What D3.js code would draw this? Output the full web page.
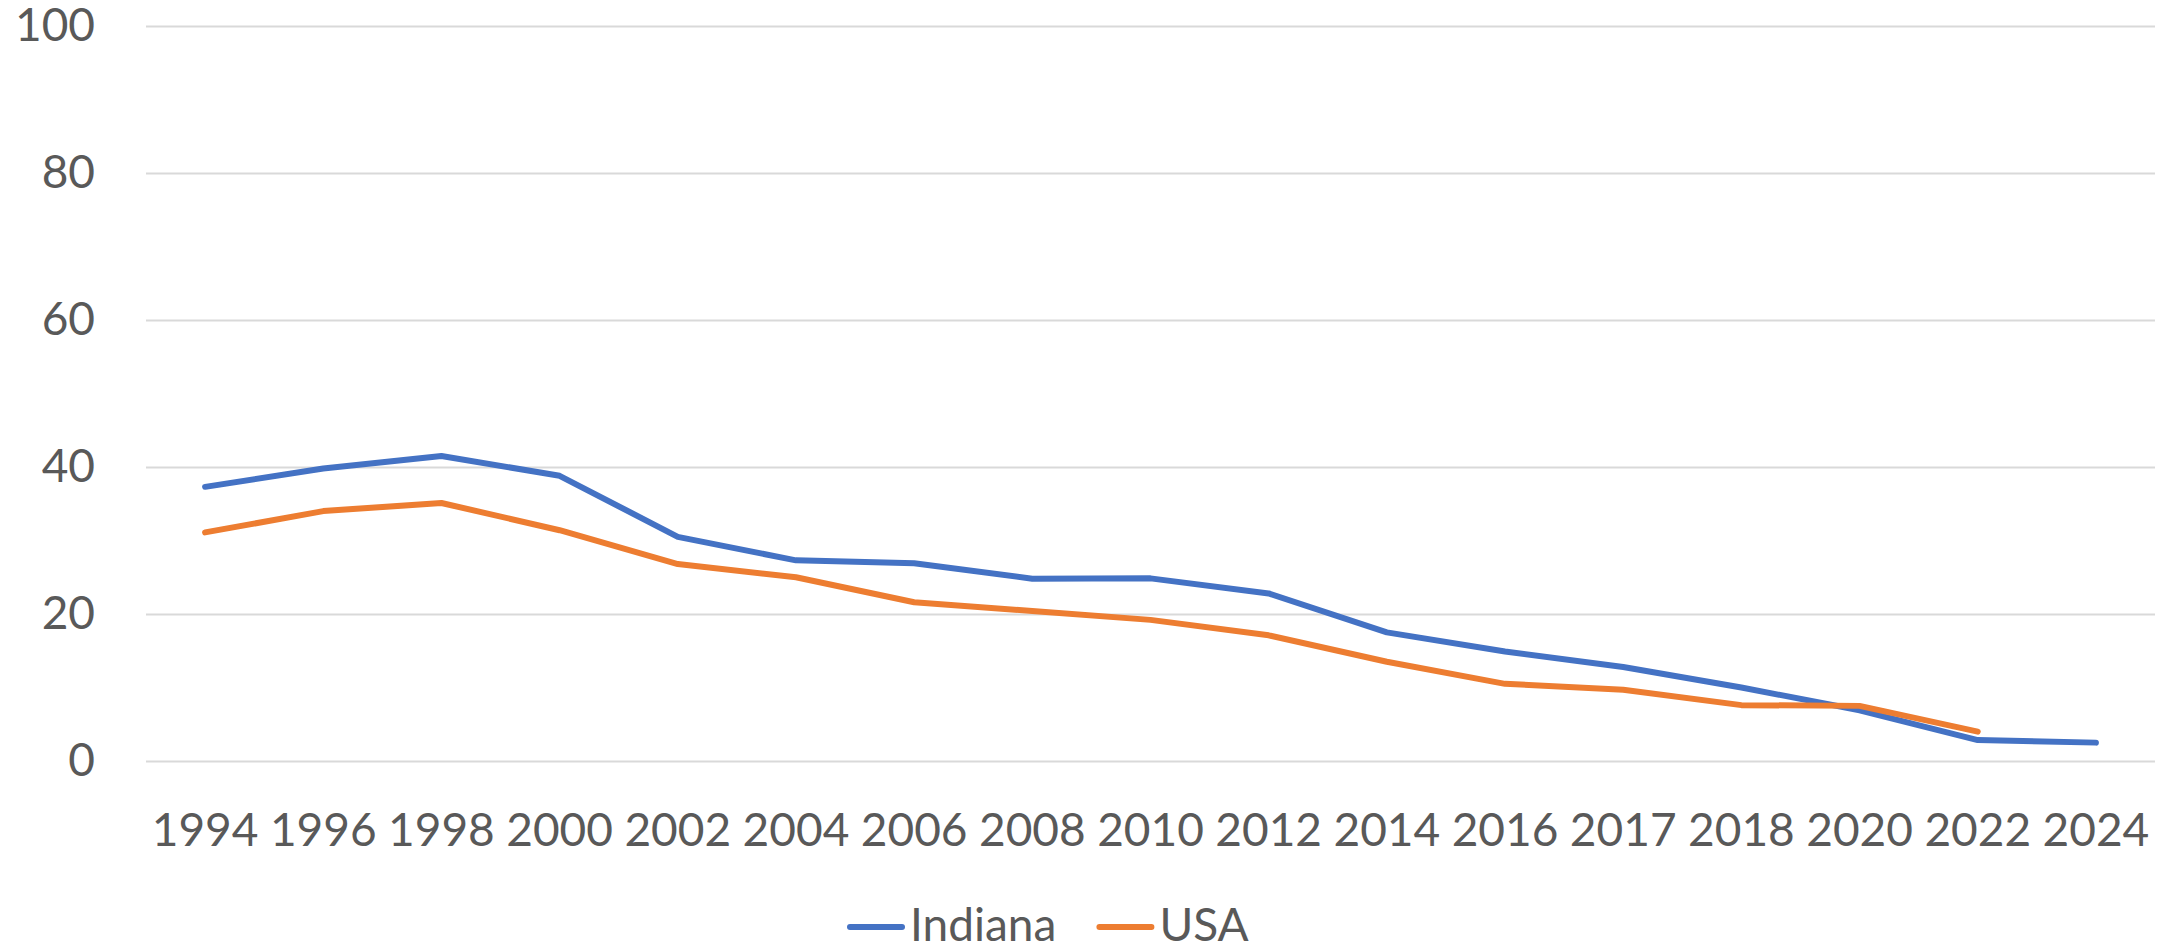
<!DOCTYPE html>
<html>
<head>
<meta charset="utf-8">
<script src="https://cdn.jsdelivr.net/npm/d3@7"></script>
<style>
  html, body { margin: 0; padding: 0; background: #fff; }
  svg { display: block; font-family: Lato, "Open Sans", sans-serif; }
</style>
</head>
<body>
<svg width="2178" height="951"></svg>
<script>
const years = ["1994", "1996", "1998", "2000", "2002", "2004", "2006", "2008", "2010",
  "2012", "2014", "2016", "2017", "2018", "2020", "2022", "2024"];
const indiana = [37.3, 39.8, 41.5, 38.8, 30.5, 27.3, 26.9, 24.8, 24.85, 22.8, 17.5, 14.9,
  12.8, 10.0, 6.9, 2.85, 2.5];
const usa = [31.1, 34.0, 35.1, 31.4, 26.8, 25.0, 21.6, 20.4, 19.2, 17.1, 13.5, 10.5,
  9.7, 7.6, 7.5, 4.0, null];
const yTicks = [0, 20, 40, 60, 80, 100];

const seriesList = [
  {name: "Indiana", values: indiana, color: "#4472C4"},
  {name: "USA", values: usa, color: "#ED7D31"}
];

const svg = d3.select("svg");
const margin = {top: 26, right: 23, bottom: 190, left: 146};
const width = +svg.attr("width") - margin.left - margin.right;
const height = +svg.attr("height") - margin.top - margin.bottom;
const textColor = "#595959";
const fontSize = 46;

const x = d3.scaleBand().domain(years).range([0, width]);
const y = d3.scaleLinear().domain([0, 100]).range([height, 0]);

const g = svg.append("g").attr("transform", `translate(${margin.left},${margin.top})`);

// gridlines + y labels
const yAxis = d3.axisLeft(y).tickValues(yTicks).tickSize(-width).tickPadding(51);
g.append("g")
  .call(yAxis)
  .attr("font-family", null)
  .attr("font-size", fontSize)
  .call(s => s.select(".domain").remove())
  .call(s => s.selectAll(".tick line").attr("stroke", "#D9D9D9").attr("stroke-width", 2))
  .call(s => s.selectAll(".tick text").attr("fill", textColor));

// x labels
const xAxis = d3.axisBottom(x).tickSize(0).tickPadding(52);
g.append("g")
  .attr("transform", `translate(0,${height})`)
  .call(xAxis)
  .attr("font-family", null)
  .attr("font-size", fontSize)
  .call(s => s.select(".domain").remove())
  .call(s => s.selectAll(".tick text").attr("fill", textColor));

const line = d3.line()
  .defined(d => d != null)
  .x((d, i) => x(years[i]) + x.bandwidth() / 2)
  .y(d => y(d));

seriesList.forEach(s => {
  g.append("path")
    .datum(s.values)
    .attr("fill", "none")
    .attr("stroke", s.color)
    .attr("stroke-width", 6)
    .attr("stroke-linejoin", "round")
    .attr("stroke-linecap", "round")
    .attr("d", line);
});

// legend
const legend = svg.append("g").attr("transform", "translate(848,927)");
let lx = 0;
seriesList.forEach(s => {
  legend.append("line")
    .attr("x1", lx + 2).attr("x2", lx + 54)
    .attr("y1", 0).attr("y2", 0)
    .attr("stroke", s.color).attr("stroke-width", 6)
    .attr("stroke-linecap", "round");
  const t = legend.append("text")
    .attr("x", lx + 62).attr("y", 14)
    .attr("fill", textColor)
    .attr("font-size", 46)
    .text(s.name);
  lx += 62 + t.node().getComputedTextLength() + 41;
});
</script>
</body>
</html>
